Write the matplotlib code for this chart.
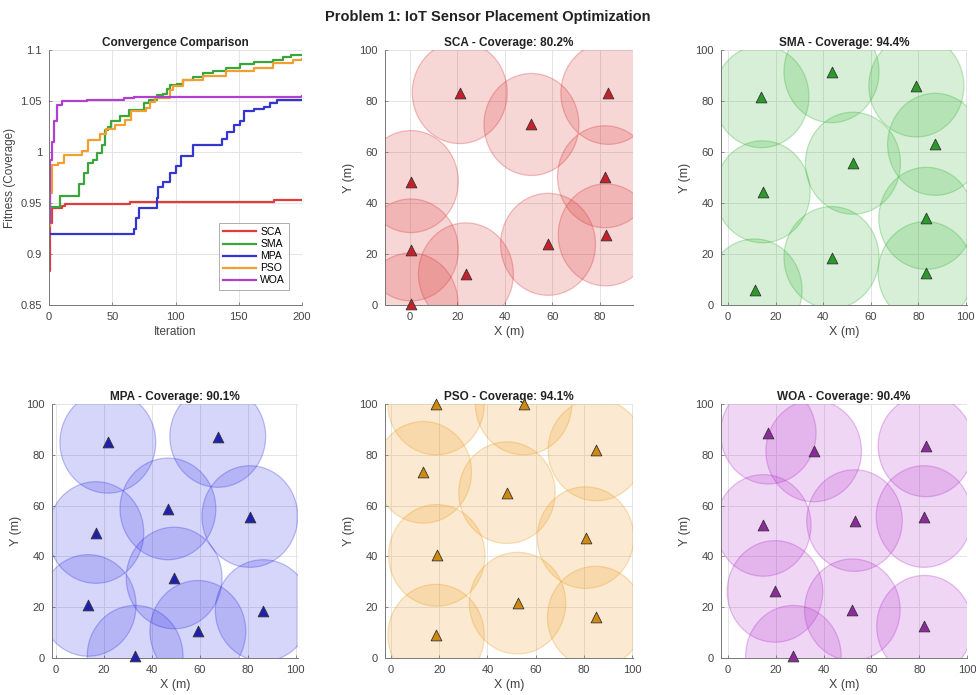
import numpy as np
import matplotlib
matplotlib.use("Agg")
import matplotlib.pyplot as plt
from matplotlib.patches import Circle

plt.rcParams['font.family'] = ['Liberation Sans', 'DejaVu Sans']

# convergence curves: (iteration, best fitness) breakpoints
sca_iter = [0, 1, 2, 10, 13, 64, 178, 200]
sca_fit = [0.883, 0.93, 0.945, 0.947, 0.949, 0.951, 0.953, 0.953]

sma_iter = [0, 1, 9, 24, 28, 31, 35, 38, 42, 44, 47, 49, 56, 63, 75, 79, 85, 90, 93, 96, 101,
            106, 114, 122, 130, 140, 151, 162, 177, 185, 191, 200]
sma_fit = [0.935, 0.946, 0.957, 0.969, 0.979, 0.989, 0.992, 0.999, 1.007, 1.022, 1.025, 1.030,
           1.035, 1.041, 1.048, 1.051, 1.056, 1.057, 1.062, 1.066, 1.067, 1.071, 1.074, 1.077,
           1.079, 1.082, 1.086, 1.088, 1.090, 1.093, 1.095, 1.095]

mpa_iter = [0, 67, 69, 71, 85, 86, 90, 96, 100, 104, 114, 137, 141, 146, 151, 154, 162, 170,
            175, 180, 200]
mpa_fit = [0.920, 0.925, 0.935, 0.945, 0.955, 0.966, 0.971, 0.979, 0.986, 0.996, 1.007, 1.013,
           1.020, 1.026, 1.030, 1.040, 1.042, 1.044, 1.048, 1.051, 1.051]

pso_iter = [0, 1, 2, 7, 12, 26, 31, 40, 45, 52, 60, 65, 77, 80, 84, 96, 98, 106, 122, 140, 162,
            177, 193, 200]
pso_fit = [0.927, 0.96, 0.987, 0.989, 0.997, 1.001, 1.012, 1.018, 1.023, 1.026, 1.031, 1.040,
           1.043, 1.049, 1.053, 1.061, 1.065, 1.071, 1.075, 1.079, 1.082, 1.087, 1.090, 1.091]

woa_iter = [0, 1, 2, 4, 6, 10, 30, 59, 67, 200]
woa_fit = [0.930, 0.992, 1.010, 1.030, 1.046, 1.050, 1.051, 1.0526, 1.054, 1.0548]

# sensor positions per algorithm
sca_x = [21.0, 51.2, 83.6, 0.4, 82.2, 0.4, 23.6, 58.2, 82.5, 0.3]
sca_y = [83.3, 70.8, 83.0, 48.4, 50.3, 21.6, 12.2, 23.8, 27.5, 0.4]

sma_x = [14.0, 43.5, 79.2, 87.1, 52.5, 14.5, 83.4, 43.5, 83.1, 11.1]
sma_y = [81.7, 91.5, 85.9, 63.0, 55.6, 44.4, 34.0, 18.6, 12.7, 5.9]

mpa_x = [21.6, 67.5, 46.7, 80.9, 16.6, 49.3, 13.4, 86.5, 59.2, 33.0]
mpa_y = [84.9, 87.2, 58.7, 55.7, 49.4, 31.5, 20.7, 18.7, 10.5, 0.7]

pso_x = [18.7, 55.0, 85.2, 13.4, 48.1, 80.7, 19.0, 52.5, 84.9, 18.7]
pso_y = [100.0, 100.0, 81.9, 73.1, 65.1, 47.4, 40.4, 21.6, 16.1, 9.0]

woa_x = [16.8, 35.8, 82.8, 14.7, 52.9, 82.0, 19.6, 52.0, 82.2, 27.3]
woa_y = [88.5, 81.5, 83.5, 52.2, 54.1, 55.7, 26.2, 19.0, 12.5, 0.7]

coverage = {"SCA": 80.2, "SMA": 94.4, "MPA": 90.1, "PSO": 94.1, "WOA": 90.4}
sensor_range = 20

line_colors = {"SCA": "#e03c3c", "SMA": "#3aa53a", "MPA": "#3535d0",
               "PSO": "#f0a030", "WOA": "#b040d0"}
fill_colors = {"SCA": (0.85, 0.2, 0.2), "SMA": (0.2, 0.7, 0.2), "MPA": (0.2, 0.2, 0.9),
               "PSO": (0.93, 0.6, 0.1), "WOA": (0.7, 0.2, 0.8)}
marker_colors = {"SCA": "#c8202a", "SMA": "#2a9a2a", "MPA": "#2020b0",
                 "PSO": "#d08a10", "WOA": "#8e2a9e"}

W, H = 976, 695
fig = plt.figure(figsize=(W / 100, H / 100), dpi=100)
fig.patch.set_facecolor("white")


def add_axes_px(left, right, top, bottom):
    return fig.add_axes([left / W, (H - bottom) / H, (right - left) / W, (bottom - top) / H])


def style(ax):
    ax.grid(True, color="#e4e4e4", linewidth=0.7)
    ax.set_axisbelow(True)
    for s in ["top", "right"]:
        ax.spines[s].set_visible(False)
    for s in ["left", "bottom"]:
        ax.spines[s].set_color("#777777")
        ax.spines[s].set_linewidth(0.7)
    ax.tick_params(direction="in", length=2.5, width=0.6, color="#777777",
                   labelsize=8, labelcolor="#444444", pad=5)


fig.text(0.5, 1 - 17 / H, "Problem 1: IoT Sensor Placement Optimization",
         ha="center", va="center", fontsize=10.5, fontweight="bold", color="#222222")

# convergence
ax = add_axes_px(49, 302, 50, 305)
style(ax)
curves = [("SCA", sca_iter, sca_fit), ("SMA", sma_iter, sma_fit), ("MPA", mpa_iter, mpa_fit),
          ("PSO", pso_iter, pso_fit), ("WOA", woa_iter, woa_fit)]
for name, it, fit in curves:
    ax.plot(it, fit, drawstyle="steps-post", color=line_colors[name], lw=1.6, label=name)
ax.set_xlim(0, 200)
ax.set_ylim(0.85, 1.1)
ax.set_xticks([0, 50, 100, 150, 200])
ax.set_yticks([0.85, 0.9, 0.95, 1.0, 1.05, 1.1])
ax.set_yticklabels(["0.85", "0.9", "0.95", "1", "1.05", "1.1"])
ax.set_title("Convergence Comparison", fontsize=8.5, fontweight="bold", pad=3, color="#222222")
ax.set_xlabel("Iteration", fontsize=8.5, color="#444444", labelpad=3)
ax.set_ylabel("Fitness (Coverage)", fontsize=8.5, color="#444444", labelpad=3)
leg = ax.legend(loc="lower right", fontsize=7.5, frameon=True, fancybox=False,
                handlelength=3.2, borderpad=0.4, labelspacing=0.2, handletextpad=0.4,
                bbox_to_anchor=(0.97, 0.04))
leg.get_frame().set_edgecolor("#999999")
leg.get_frame().set_linewidth(0.7)

# sensor layouts
panels = [
    ("SCA", sca_x, sca_y, (385, 633, 50, 305), (-10.5, 94), [0, 20, 40, 60, 80]),
    ("SMA", sma_x, sma_y, (721, 967, 50, 305), (-3, 100.5), [0, 20, 40, 60, 80, 100]),
    ("MPA", mpa_x, mpa_y, (52, 298, 404, 658), (-1.7, 101), [0, 20, 40, 60, 80, 100]),
    ("PSO", pso_x, pso_y, (385, 633, 404, 658), (-2.5, 100.4), [0, 20, 40, 60, 80, 100]),
    ("WOA", woa_x, woa_y, (721, 967, 404, 658), (-3, 100), [0, 20, 40, 60, 80, 100]),
]
for name, xs, ys, box, xl, xt in panels:
    ax = add_axes_px(*box)
    style(ax)
    c = fill_colors[name]
    for x, y in zip(xs, ys):
        ax.add_patch(Circle((x, y), sensor_range, facecolor=(*c, 0.2),
                            edgecolor=(*c, 0.3), linewidth=0.9))
    ax.scatter(xs, ys, marker="^", s=60, color=marker_colors[name],
               edgecolor="#333333", linewidth=0.6, zorder=5, clip_on=False)
    ax.set_xlim(*xl)
    ax.set_ylim(0, 100)
    ax.set_xticks(xt)
    ax.set_yticks([0, 20, 40, 60, 80, 100])
    ax.set_title(f"{name} - Coverage: {coverage[name]}%", fontsize=8.5, fontweight="bold",
                 pad=3, color="#222222")
    ax.set_xlabel("X (m)", fontsize=9, color="#444444", labelpad=3)
    ax.set_ylabel("Y (m)", fontsize=9, color="#444444", labelpad=3)

fig.savefig("out.png", dpi=100)
